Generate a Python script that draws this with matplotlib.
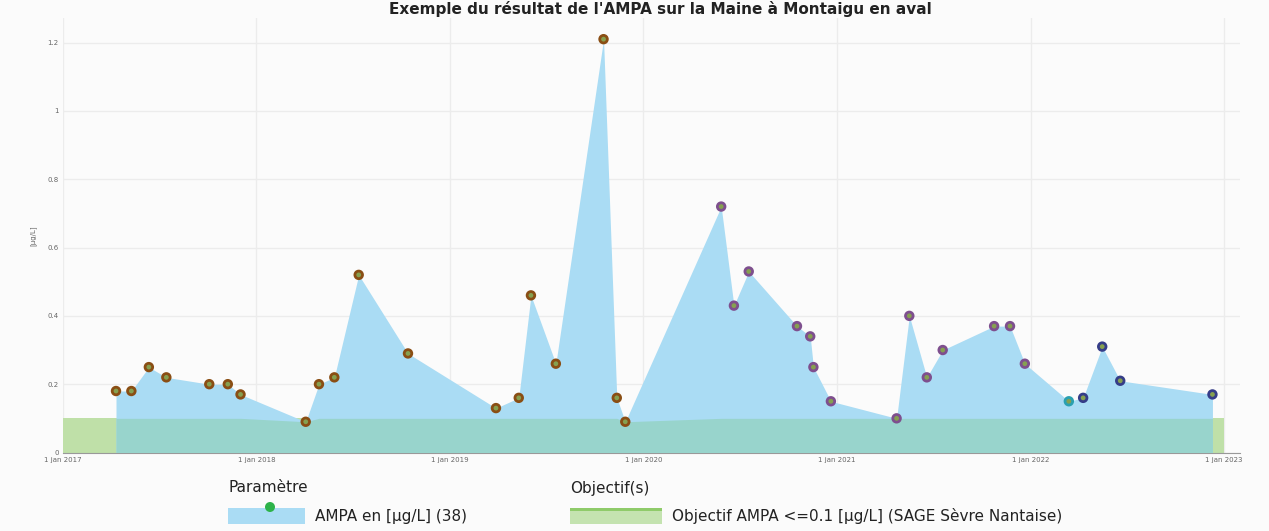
import datetime as dt
import numpy as np
import matplotlib
matplotlib.use('Agg')
import matplotlib.pyplot as plt
from matplotlib.patches import Rectangle, Ellipse

# Données AMPA (µg/L)
dates = ['2017-04-11', '2017-05-10', '2017-06-12', '2017-07-15', '2017-10-04', '2017-11-08',
         '2017-12-02', '2018-04-04', '2018-04-29', '2018-05-28', '2018-07-13', '2018-10-14',
         '2019-03-29', '2019-05-11', '2019-06-03', '2019-07-20', '2019-10-18', '2019-11-12',
         '2019-11-28', '2020-05-27', '2020-06-20', '2020-07-18', '2020-10-17', '2020-11-11',
         '2020-11-17', '2020-12-20', '2021-04-23', '2021-05-17', '2021-06-19', '2021-07-19',
         '2021-10-24', '2021-11-23', '2021-12-21', '2022-03-14', '2022-04-10', '2022-05-16',
         '2022-06-19', '2022-12-10']
ampa = [0.18, 0.18, 0.25, 0.22, 0.20, 0.20,
        0.17, 0.09, 0.20, 0.22, 0.52, 0.29,
        0.13, 0.16, 0.46, 0.26, 1.21, 0.16,
        0.09, 0.72, 0.43, 0.53, 0.37, 0.34,
        0.25, 0.15, 0.10, 0.40, 0.22, 0.30,
        0.37, 0.37, 0.26, 0.15, 0.16, 0.31,
        0.21, 0.17]
ring_colors = (['#8a4e14'] * 19 + ['#7e4f8e'] * 14 + ['#2aa0b0'] + ['#353d88'] * 4)

objectif = 0.1
obj_start = '2017-01-01'
obj_end = '2023-01-01'
years = ['2017', '2018', '2019', '2020', '2021', '2022', '2023']
yticks = [0, 0.2, 0.4, 0.6, 0.8, 1, 1.2]

x = [dt.datetime.strptime(d, '%Y-%m-%d') for d in dates]
y = np.array(ampa)
x_obj = [dt.datetime.strptime(obj_start, '%Y-%m-%d'), dt.datetime.strptime(obj_end, '%Y-%m-%d')]

W, H = 1269, 531
fig = plt.figure(figsize=(W / 100, H / 100), dpi=100, facecolor='#fbfbfb')
ax = fig.add_axes([63 / W, 1 - 452.5 / H, (1240 - 63) / W, (452.5 - 18) / H])
ax.set_facecolor('#fbfbfb')

# objectif + zone AMPA
ax.fill_between(x_obj, 0, objectif, color='#bfe0a8', lw=0, zorder=1)
ax.fill_between(x, 0, y, color='#aadcf4', lw=0, zorder=2)
ax.fill_between(x, 0, np.minimum(y, objectif), color='#98d4cc', lw=0, zorder=3)
ax.scatter(x, y, s=30, c='#86a050', edgecolors=ring_colors, linewidths=2.0, zorder=5)

ax.set_xlim(dt.datetime(2017, 1, 1), dt.datetime(2023, 1, 31))
ax.set_ylim(0, 1.272)
ax.set_xticks([dt.datetime(int(a), 1, 1) for a in years])
ax.set_xticklabels(['1 jan ' + a for a in years])
ax.set_yticks(yticks)
ax.set_yticklabels([('%g' % v) for v in yticks])
ax.tick_params(axis='both', length=0, labelsize=5, labelcolor='#666666')
ax.tick_params(axis='x', pad=3)
ax.tick_params(axis='y', pad=3)
ax.grid(True, color='#ececec', lw=1)
ax.set_axisbelow(True)
for s in ['top', 'right', 'left']:
    ax.spines[s].set_visible(False)
ax.spines['bottom'].set_color('#999999')
ax.set_ylabel('[µg/L]', fontsize=5, color='#666666', labelpad=8)

# titre (presque hors cadre dans l'original, gardé lisible ici)
fig.text(0.52, 1 - 1 / H, "Exemple du résultat de l'AMPA sur la Maine à Montaigu en aval",
         ha='center', va='top', fontsize=11, fontweight='bold', color='#222222')

# légende
lfont = dict(family=['Liberation Sans Narrow', 'DejaVu Sans'], fontsize=11, color='#222222')
fig.text(228 / W, 1 - 488 / H, 'Paramètre', va='center', **lfont)
fig.text(570 / W, 1 - 488 / H, 'Objectif(s)', va='center', **lfont)
fig.patches.append(Rectangle((228 / W, 1 - 524 / H), 77 / W, 16 / H, transform=fig.transFigure,
                             color='#aadcf4', lw=0))
fig.patches.append(Ellipse((270 / W, 1 - 507 / H), 10 / W, 10 / H, transform=fig.transFigure,
                           color='#2db34a', lw=0))
fig.patches.append(Rectangle((570 / W, 1 - 524 / H), 92 / W, 16 / H, transform=fig.transFigure,
                             color='#c4e3b0', lw=0))
fig.patches.append(Rectangle((570 / W, 1 - 511 / H), 92 / W, 3 / H, transform=fig.transFigure,
                             color='#8fcb6a', lw=0))
fig.text(315 / W, 1 - 516 / H, 'AMPA en [µg/L] (38)', va='center', **lfont)
fig.text(672 / W, 1 - 516 / H, 'Objectif AMPA <=0.1 [µg/L] (SAGE Sèvre Nantaise)', va='center', **lfont)

fig.savefig('out.png', dpi=100, facecolor=fig.get_facecolor())
